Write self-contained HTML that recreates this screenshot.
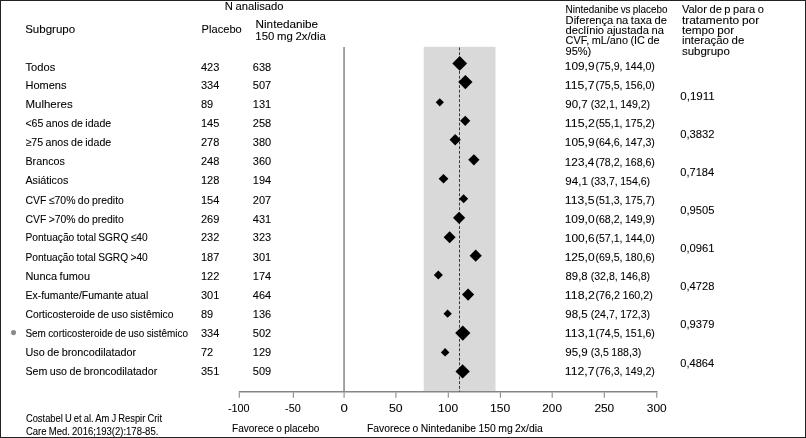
<!DOCTYPE html>
<html lang="pt"><head><meta charset="utf-8"><title>Forest plot</title>
<style>
html,body{margin:0;padding:0;background:#fff}
body{width:806px;height:438px;position:relative;overflow:hidden;font-family:"Liberation Sans",sans-serif;color:#000}
.t{position:absolute;white-space:nowrap;line-height:1;transform-origin:0 0;font-size:11px;word-spacing:-0.5px;-webkit-text-stroke:0.08px #000}
svg{position:absolute;left:0;top:0}
</style></head><body>
<svg width="806" height="438" viewBox="0 0 806 438">
<rect x="423.7" y="46.8" width="71.8" height="344.9" fill="#d9d9d9"/>
<line x1="344.05" y1="46.9" x2="344.05" y2="391.8" stroke="#858585" stroke-width="1.5"/>
<line x1="238.8" y1="391.85" x2="657.5" y2="391.85" stroke="#858585" stroke-width="1.5"/>
<line x1="239.3" y1="392.4" x2="239.3" y2="397.7" stroke="#8a8a8a" stroke-width="1.1"/>
<line x1="293.4" y1="392.4" x2="293.4" y2="397.7" stroke="#8a8a8a" stroke-width="1.1"/>
<line x1="344.1" y1="392.4" x2="344.1" y2="397.7" stroke="#8a8a8a" stroke-width="1.1"/>
<line x1="395.9" y1="392.4" x2="395.9" y2="397.7" stroke="#8a8a8a" stroke-width="1.1"/>
<line x1="448.3" y1="392.4" x2="448.3" y2="397.7" stroke="#8a8a8a" stroke-width="1.1"/>
<line x1="500.4" y1="392.4" x2="500.4" y2="397.7" stroke="#8a8a8a" stroke-width="1.1"/>
<line x1="552.2" y1="392.4" x2="552.2" y2="397.7" stroke="#8a8a8a" stroke-width="1.1"/>
<line x1="604.3" y1="392.4" x2="604.3" y2="397.7" stroke="#8a8a8a" stroke-width="1.1"/>
<line x1="656.8" y1="392.4" x2="656.8" y2="397.7" stroke="#8a8a8a" stroke-width="1.1"/>
<line x1="459.5" y1="47.5" x2="459.5" y2="391.5" stroke="#1a1a1a" stroke-width="0.85" stroke-dasharray="2.9 1.8"/>
<polygon points="452.3,63.4 459.7,56.0 467.1,63.4 459.7,70.7" fill="#000"/>
<polygon points="458.2,82.0 465.4,74.9 472.5,82.0 465.4,89.2" fill="#000"/>
<polygon points="435.7,102.3 439.8,98.2 443.9,102.3 439.8,106.5" fill="#000"/>
<polygon points="460.1,120.8 465.2,115.7 470.3,120.8 465.2,126.0" fill="#000"/>
<polygon points="449.6,139.8 455.2,134.1 460.8,139.8 455.2,145.4" fill="#000"/>
<polygon points="468.2,159.8 473.9,154.2 479.5,159.8 473.9,165.5" fill="#000"/>
<polygon points="438.6,178.8 443.5,173.9 448.4,178.8 443.5,183.6" fill="#000"/>
<polygon points="459.1,198.8 463.6,194.2 468.2,198.8 463.6,203.3" fill="#000"/>
<polygon points="453.0,217.8 459.1,211.7 465.2,217.8 459.1,224.0" fill="#000"/>
<polygon points="443.6,237.2 449.6,231.2 455.6,237.2 449.6,243.2" fill="#000"/>
<polygon points="469.6,255.7 475.7,249.5 481.8,255.7 475.7,261.8" fill="#000"/>
<polygon points="433.8,275.1 438.3,270.5 442.9,275.1 438.3,279.6" fill="#000"/>
<polygon points="462.0,294.6 468.1,288.4 474.2,294.6 468.1,300.7" fill="#000"/>
<polygon points="443.5,313.7 447.6,309.5 451.8,313.7 447.6,317.8" fill="#000"/>
<polygon points="455.2,333.1 462.8,325.4 470.4,333.1 462.8,340.7" fill="#000"/>
<polygon points="440.9,352.4 445.1,348.1 449.4,352.4 445.1,356.6" fill="#000"/>
<polygon points="455.5,371.5 462.6,364.3 469.8,371.5 462.6,378.6" fill="#000"/>
<circle cx="13.55" cy="332.6" r="2.55" fill="#8a8a8a"/>
<path d="M0 0H806V438H0Z M1 1H805V437H1Z" fill="#222" fill-rule="evenodd"/>
</svg>
<span class="t" style="left:25px;top:24px;transform:translateX(0.16px) scaleX(1.047);">Subgrupo</span>
<span class="t" style="left:224px;top:2px;font-size:10px;transform:translateX(0.74px) scaleX(1.124);">N analisado</span>
<span class="t" style="left:201px;top:24px;transform:translateX(0.62px) scaleX(1.009);">Placebo</span>
<span class="t" style="left:255px;top:19px;transform:translateX(0.55px) scaleX(1.065);">Nintedanibe</span>
<span class="t" style="left:255px;top:31px;transform:translateX(0.37px) scaleX(1.034);">150 mg 2x/dia</span>
<span class="t" style="left:565px;top:4px;transform:translateX(0.60px) scaleX(0.899);">Nintedanibe vs placebo</span>
<span class="t" style="left:565px;top:15px;transform:translateX(0.60px) scaleX(1.013);">Diferença na taxa de</span>
<span class="t" style="left:565px;top:25px;transform:translateX(0.60px) scaleX(1.015);">declínio ajustada na</span>
<span class="t" style="left:565px;top:35px;transform:translateX(0.60px) scaleX(0.988);">CVF, mL/ano (IC de</span>
<span class="t" style="left:565px;top:46px;transform:translateX(0.60px) scaleX(1.000);">95%)</span>
<span class="t" style="left:681px;top:4px;transform:translateX(0.90px) scaleX(1.006);">Valor de p para o</span>
<span class="t" style="left:681px;top:15px;transform:translateX(0.90px) scaleX(1.088);">tratamento por</span>
<span class="t" style="left:681px;top:25px;transform:translateX(0.90px) scaleX(1.065);">tempo por</span>
<span class="t" style="left:681px;top:35px;transform:translateX(0.90px) scaleX(1.039);">interação de</span>
<span class="t" style="left:681px;top:46px;transform:translateX(0.90px) scaleX(1.044);">subgrupo</span>
<span class="t" style="left:25px;top:62px;transform:translateX(0.45px) scaleX(1.015);">Todos</span>
<span class="t" style="left:200px;top:62px;transform:translateX(0.95px) scaleX(1.003);">423</span>
<span class="t" style="left:252px;top:62px;transform:translateX(0.85px) scaleX(1.000);">638</span>
<span class="t" style="left:564px;top:61px;transform:translateX(0.83px) scaleX(1.077);">109,9</span>
<span class="t" style="left:595px;top:61px;transform:translateX(0.43px) scaleX(0.961);">(75,9, 144,0)</span>
<span class="t" style="left:25px;top:80px;transform:translateX(0.45px) scaleX(1.000);">Homens</span>
<span class="t" style="left:200px;top:80px;transform:translateX(0.95px) scaleX(1.003);">334</span>
<span class="t" style="left:252px;top:80px;transform:translateX(0.85px) scaleX(1.000);">507</span>
<span class="t" style="left:564px;top:80px;transform:translateX(0.80px) scaleX(1.115);">115,7</span>
<span class="t" style="left:595px;top:80px;transform:translateX(0.43px) scaleX(0.961);">(75,5, 156,0)</span>
<span class="t" style="left:25px;top:99px;transform:translateX(0.45px) scaleX(1.043);">Mulheres</span>
<span class="t" style="left:200px;top:99px;transform:translateX(0.95px) scaleX(1.003);">89</span>
<span class="t" style="left:252px;top:99px;transform:translateX(0.85px) scaleX(1.000);">131</span>
<span class="t" style="left:565px;top:99px;transform:translateX(0.30px) scaleX(1.045);">90,7</span>
<span class="t" style="left:590px;top:99px;transform:translateX(0.69px) scaleX(0.960);">(32,1, 149,2)</span>
<span class="t" style="left:25px;top:118px;transform:translateX(0.45px) scaleX(0.960);">&lt;65 anos de idade</span>
<span class="t" style="left:200px;top:118px;transform:translateX(0.95px) scaleX(1.003);">145</span>
<span class="t" style="left:252px;top:118px;transform:translateX(0.85px) scaleX(1.000);">258</span>
<span class="t" style="left:564px;top:118px;transform:translateX(0.80px) scaleX(1.124);">115,2</span>
<span class="t" style="left:595px;top:118px;transform:translateX(0.43px) scaleX(0.961);">(55,1, 175,2)</span>
<span class="t" style="left:25px;top:137px;transform:translateX(0.45px) scaleX(0.964);">≥75 anos de idade</span>
<span class="t" style="left:200px;top:137px;transform:translateX(0.95px) scaleX(1.003);">278</span>
<span class="t" style="left:252px;top:137px;transform:translateX(0.85px) scaleX(1.000);">380</span>
<span class="t" style="left:564px;top:137px;transform:translateX(0.83px) scaleX(1.077);">105,9</span>
<span class="t" style="left:595px;top:137px;transform:translateX(0.43px) scaleX(0.961);">(64,6, 147,3)</span>
<span class="t" style="left:25px;top:156px;transform:translateX(0.45px) scaleX(0.976);">Brancos</span>
<span class="t" style="left:200px;top:156px;transform:translateX(0.95px) scaleX(1.003);">248</span>
<span class="t" style="left:252px;top:156px;transform:translateX(0.85px) scaleX(1.000);">360</span>
<span class="t" style="left:564px;top:157px;transform:translateX(0.85px) scaleX(1.066);">123,4</span>
<span class="t" style="left:595px;top:157px;transform:translateX(0.43px) scaleX(0.961);">(78,2, 168,6)</span>
<span class="t" style="left:25px;top:175px;transform:translateX(0.45px) scaleX(0.973);">Asiáticos</span>
<span class="t" style="left:200px;top:175px;transform:translateX(0.95px) scaleX(1.003);">128</span>
<span class="t" style="left:252px;top:175px;transform:translateX(0.85px) scaleX(1.000);">194</span>
<span class="t" style="left:565px;top:176px;transform:translateX(0.33px) scaleX(1.050);">94,1</span>
<span class="t" style="left:590px;top:176px;transform:translateX(0.69px) scaleX(0.960);">(33,7, 154,6)</span>
<span class="t" style="left:25px;top:195px;transform:translateX(0.45px) scaleX(0.950);">CVF ≤70% do predito</span>
<span class="t" style="left:200px;top:195px;transform:translateX(0.95px) scaleX(1.003);">154</span>
<span class="t" style="left:252px;top:195px;transform:translateX(0.85px) scaleX(1.000);">207</span>
<span class="t" style="left:564px;top:195px;transform:translateX(0.80px) scaleX(1.109);">113,5</span>
<span class="t" style="left:595px;top:195px;transform:translateX(0.43px) scaleX(0.961);">(51,3, 175,7)</span>
<span class="t" style="left:25px;top:214px;transform:translateX(0.45px) scaleX(0.945);">CVF &gt;70% do predito</span>
<span class="t" style="left:200px;top:214px;transform:translateX(0.95px) scaleX(1.003);">269</span>
<span class="t" style="left:252px;top:214px;transform:translateX(0.85px) scaleX(1.000);">431</span>
<span class="t" style="left:564px;top:214px;transform:translateX(0.69px) scaleX(1.085);">109,0</span>
<span class="t" style="left:595px;top:214px;transform:translateX(0.43px) scaleX(0.961);">(68,2, 149,9)</span>
<span class="t" style="left:25px;top:232px;transform:translateX(0.45px) scaleX(0.928);">Pontuação total SGRQ ≤40</span>
<span class="t" style="left:200px;top:232px;transform:translateX(0.95px) scaleX(1.003);">232</span>
<span class="t" style="left:252px;top:232px;transform:translateX(0.85px) scaleX(1.000);">323</span>
<span class="t" style="left:564px;top:233px;transform:translateX(0.85px) scaleX(1.080);">100,6</span>
<span class="t" style="left:595px;top:233px;transform:translateX(0.43px) scaleX(0.961);">(57,1, 144,0)</span>
<span class="t" style="left:25px;top:252px;transform:translateX(0.45px) scaleX(0.926);">Pontuação total SGRQ &gt;40</span>
<span class="t" style="left:200px;top:252px;transform:translateX(0.95px) scaleX(1.003);">187</span>
<span class="t" style="left:252px;top:252px;transform:translateX(0.85px) scaleX(1.000);">301</span>
<span class="t" style="left:564px;top:252px;transform:translateX(0.69px) scaleX(1.085);">125,0</span>
<span class="t" style="left:595px;top:252px;transform:translateX(0.43px) scaleX(0.961);">(69,5, 180,6)</span>
<span class="t" style="left:25px;top:271px;transform:translateX(0.45px) scaleX(0.994);">Nunca fumou</span>
<span class="t" style="left:200px;top:271px;transform:translateX(0.95px) scaleX(1.003);">122</span>
<span class="t" style="left:252px;top:271px;transform:translateX(0.85px) scaleX(1.000);">174</span>
<span class="t" style="left:565px;top:271px;transform:translateX(0.57px) scaleX(1.028);">89,8</span>
<span class="t" style="left:590px;top:271px;transform:translateX(0.69px) scaleX(0.960);">(32,8, 146,8)</span>
<span class="t" style="left:25px;top:290px;transform:translateX(0.45px) scaleX(0.951);">Ex-fumante/Fumante atual</span>
<span class="t" style="left:200px;top:290px;transform:translateX(0.95px) scaleX(1.003);">301</span>
<span class="t" style="left:252px;top:290px;transform:translateX(0.85px) scaleX(1.000);">464</span>
<span class="t" style="left:564px;top:290px;transform:translateX(0.80px) scaleX(1.124);">118,2</span>
<span class="t" style="left:595px;top:290px;transform:translateX(0.45px) scaleX(0.976);">(76,2 160,2)</span>
<span class="t" style="left:25px;top:309px;transform:translateX(0.45px) scaleX(0.940);">Corticosteroide de uso sistêmico</span>
<span class="t" style="left:200px;top:309px;transform:translateX(0.95px) scaleX(1.003);">89</span>
<span class="t" style="left:252px;top:309px;transform:translateX(0.85px) scaleX(1.000);">136</span>
<span class="t" style="left:565px;top:309px;transform:translateX(0.33px) scaleX(1.043);">98,5</span>
<span class="t" style="left:590px;top:309px;transform:translateX(0.69px) scaleX(0.960);">(24,7, 172,3)</span>
<span class="t" style="left:25px;top:328px;transform:translateX(0.45px) scaleX(0.902);">Sem corticosteroide de uso sistêmico</span>
<span class="t" style="left:200px;top:328px;transform:translateX(0.95px) scaleX(1.003);">334</span>
<span class="t" style="left:252px;top:328px;transform:translateX(0.85px) scaleX(1.000);">502</span>
<span class="t" style="left:564px;top:328px;transform:translateX(0.79px) scaleX(1.125);">113,1</span>
<span class="t" style="left:595px;top:328px;transform:translateX(0.43px) scaleX(0.961);">(74,5, 151,6)</span>
<span class="t" style="left:25px;top:347px;transform:translateX(0.45px) scaleX(0.982);">Uso de broncodilatador</span>
<span class="t" style="left:200px;top:347px;transform:translateX(0.95px) scaleX(1.003);">72</span>
<span class="t" style="left:252px;top:347px;transform:translateX(0.85px) scaleX(1.000);">129</span>
<span class="t" style="left:565px;top:347px;transform:translateX(0.30px) scaleX(1.047);">95,9</span>
<span class="t" style="left:590px;top:347px;transform:translateX(0.68px) scaleX(0.960);">(3,5 188,3)</span>
<span class="t" style="left:25px;top:366px;transform:translateX(0.45px) scaleX(0.968);">Sem uso de broncodilatador</span>
<span class="t" style="left:200px;top:366px;transform:translateX(0.95px) scaleX(1.003);">351</span>
<span class="t" style="left:252px;top:366px;transform:translateX(0.85px) scaleX(1.000);">509</span>
<span class="t" style="left:564px;top:366px;transform:translateX(0.80px) scaleX(1.115);">112,7</span>
<span class="t" style="left:595px;top:366px;transform:translateX(0.43px) scaleX(0.961);">(76,3, 149,2)</span>
<span class="t" style="left:680px;top:91px;transform:translateX(0.24px) scaleX(1.053);">0,1911</span>
<span class="t" style="left:680px;top:129px;transform:translateX(0.22px) scaleX(1.022);">0,3832</span>
<span class="t" style="left:680px;top:167px;transform:translateX(0.28px) scaleX(1.004);">0,7184</span>
<span class="t" style="left:680px;top:205px;transform:translateX(0.26px) scaleX(1.014);">0,9505</span>
<span class="t" style="left:680px;top:243px;transform:translateX(0.17px) scaleX(1.021);">0,0961</span>
<span class="t" style="left:680px;top:281px;transform:translateX(0.27px) scaleX(1.012);">0,4728</span>
<span class="t" style="left:680px;top:319px;transform:translateX(0.27px) scaleX(1.013);">0,9379</span>
<span class="t" style="left:680px;top:358px;transform:translateX(0.28px) scaleX(1.004);">0,4864</span>
<span class="t" style="left:227px;top:403px;transform:translateX(0.93px) scaleX(0.985);">-100</span>
<span class="t" style="left:285px;top:403px;transform:translateX(0.09px) scaleX(0.977);">-50</span>
<span class="t" style="left:340px;top:403px;transform:translateX(0.46px) scaleX(1.199);">0</span>
<span class="t" style="left:389px;top:403px;transform:translateX(0.05px) scaleX(1.113);">50</span>
<span class="t" style="left:438px;top:403px;transform:translateX(0.07px) scaleX(1.091);">100</span>
<span class="t" style="left:489px;top:403px;transform:translateX(1.00px) scaleX(1.102);">150</span>
<span class="t" style="left:542px;top:403px;transform:translateX(0.35px) scaleX(1.066);">200</span>
<span class="t" style="left:594px;top:403px;transform:translateX(0.38px) scaleX(1.079);">250</span>
<span class="t" style="left:646px;top:403px;transform:translateX(0.77px) scaleX(1.082);">300</span>
<span class="t" style="left:232px;top:423px;transform:translateX(0.01px) scaleX(0.913);">Favorece o placebo</span>
<span class="t" style="left:366px;top:423px;transform:translateX(0.93px) scaleX(0.943);">Favorece o Nintedanibe 150 mg 2x/dia</span>
<span class="t" style="left:25px;top:414px;font-size:10px;transform:translateX(0.88px) scaleX(0.936);">Costabel U et al. Am J Respir Crit</span>
<span class="t" style="left:25px;top:427px;font-size:10px;transform:translateX(0.93px) scaleX(0.952);">Care Med. 2016;193(2):178-85.</span>
</body></html>
